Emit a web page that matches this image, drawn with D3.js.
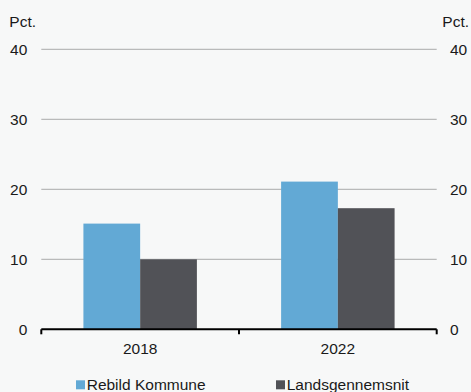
<!DOCTYPE html>
<html><head><meta charset="utf-8">
<script src="https://cdn.jsdelivr.net/npm/d3@7"></script>
<style>
html,body{margin:0;padding:0;background:#f7f8f8;}
svg{display:block;font-family:"Liberation Sans",Arial,sans-serif;}
</style></head>
<body>
<svg id="c" width="471" height="392"></svg>
<script>
const categories = ["2018", "2022"];
const seriesNames = ["Rebild Kommune", "Landsgennemsnit"];
const rebild = [15.1, 21.1];
const lands = [10.0, 17.3];
const yTicks = [0, 10, 20, 30, 40];
const colors = ["#62a9d5", "#515257"];
const unitLabel = "Pct.";

(function () {
const svg = d3.select("#c");
const mLeft = 41.3, mRight = 436.7, mTop = 49.3, mBottom = 329.3;
const fs = "15.5px";

const x = d3.scaleBand().domain(categories).range([mLeft, mRight]).paddingInner(0.426).paddingOuter(0.213);
const x1 = d3.scaleBand().domain(seriesNames).range([0, x.bandwidth()]);
const y = d3.scaleLinear().domain([0, 40]).range([mBottom, mTop]);

// gridlines
svg.append("g").selectAll("line").data(yTicks.filter(d => d > 0)).join("line")
  .attr("x1", mLeft).attr("x2", mRight)
  .attr("y1", d => y(d)).attr("y2", d => y(d))
  .attr("stroke", "#a9aaab").attr("stroke-width", 1);

// bars
const data = categories.map((c, i) => ({cat: c, vals: [rebild[i], lands[i]]}));
const g = svg.append("g");
data.forEach(d => {
  d.vals.forEach((v, j) => {
    g.append("rect")
      .attr("x", x(d.cat) + x1(seriesNames[j]))
      .attr("width", x1.bandwidth())
      .attr("y", y(v))
      .attr("height", y(0) - y(v))
      .attr("fill", colors[j]);
  });
});

// y axis labels left & right
const leftAxis = d3.axisLeft(y).tickValues(yTicks).tickSize(0).tickPadding(14);
const la = svg.append("g").attr("transform", `translate(${mLeft},0)`).call(leftAxis);
la.select(".domain").remove();
la.selectAll("text").attr("font-size", fs).attr("fill", "#1a1a1a").attr("font-family", "Liberation Sans, Arial, sans-serif");
const rightAxis = d3.axisRight(y).tickValues(yTicks).tickSize(0).tickPadding(13.3);
const ra = svg.append("g").attr("transform", `translate(${mRight},0)`).call(rightAxis);
ra.select(".domain").remove();
ra.selectAll("text").attr("font-size", fs).attr("fill", "#1a1a1a").attr("font-family", "Liberation Sans, Arial, sans-serif");

// x axis
const xAxisScale = d3.scalePoint().domain(["a", "b", "c"]).range([mLeft, mRight]);
svg.append("line").attr("x1", mLeft).attr("x2", mRight).attr("y1", mBottom).attr("y2", mBottom)
  .attr("stroke", "#000").attr("stroke-width", 2);
svg.append("g").selectAll("line").data(xAxisScale.domain()).join("line")
  .attr("x1", d => xAxisScale(d)).attr("x2", d => xAxisScale(d))
  .attr("y1", mBottom).attr("y2", mBottom + 5)
  .attr("stroke", "#000").attr("stroke-width", 2);
svg.append("g").selectAll("text").data(categories).join("text")
  .attr("x", d => x(d) + x.bandwidth() / 2).attr("y", 354)
  .attr("text-anchor", "middle").attr("font-size", fs).attr("fill", "#1a1a1a")
  .text(d => d);

// unit labels
svg.append("text").attr("x", 9.3).attr("y", 27).attr("font-size", fs).attr("fill", "#1a1a1a").text(unitLabel);
svg.append("text").attr("x", 469).attr("y", 27).attr("text-anchor", "end").attr("font-size", fs).attr("fill", "#1a1a1a").text(unitLabel);

// legend
const legX = [76, 276];
seriesNames.forEach((n, j) => {
  svg.append("rect").attr("x", legX[j]).attr("y", 380.3).attr("width", 9).attr("height", 9).attr("fill", colors[j]);
  svg.append("text").attr("x", legX[j] + 10.7).attr("y", 389.5).attr("font-size", fs).attr("fill", "#1a1a1a").text(n);
});
})();
</script>
</body></html>
